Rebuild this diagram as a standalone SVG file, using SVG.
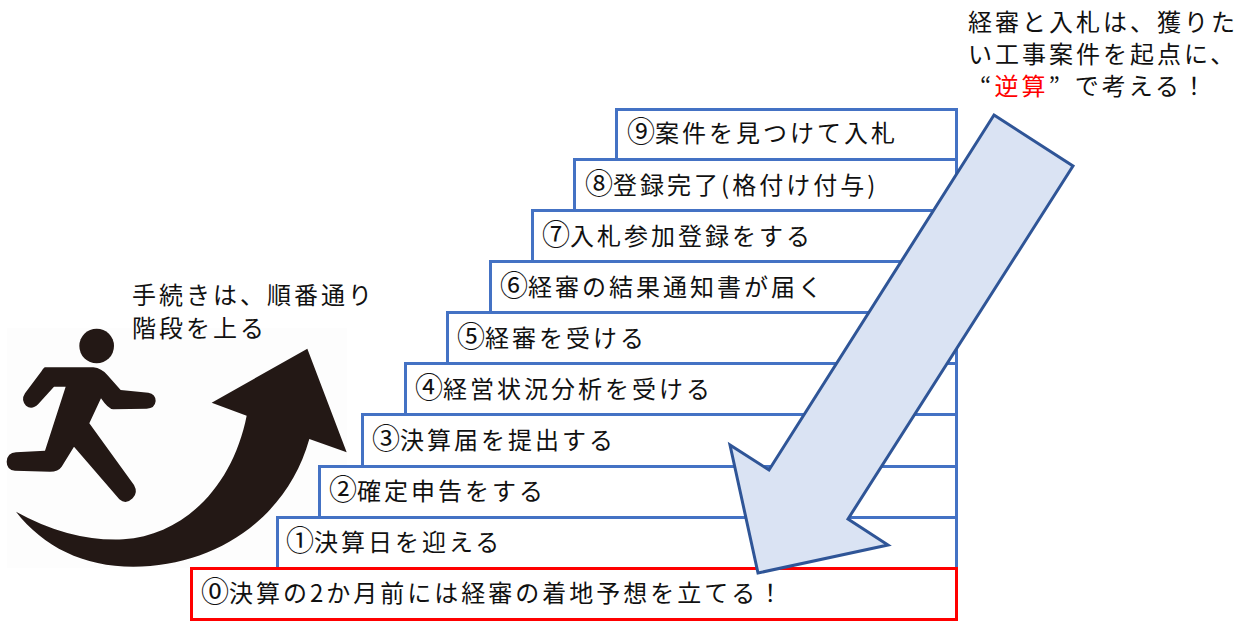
<svg xmlns="http://www.w3.org/2000/svg" width="1238" height="627" viewBox="0 0 1238 627">
<style>
text{font-family:"Noto Sans CJK JP","Noto Sans",sans-serif;font-size:24px;letter-spacing:3px;fill:#111}
.n{font-size:28px;letter-spacing:0}
.step rect{fill:#fff;stroke:#4472c4;stroke-width:3}
.zero rect{fill:#fff;stroke:#ff0000;stroke-width:3}
</style>
<rect width="1238" height="627" fill="#fff"/>
<g id="runner-figure">
<rect x="7" y="328" width="340" height="240" fill="#fdfdfd"/>
<g fill="#231815" transform="translate(0,270) scale(.33333)">
<circle cx="290" cy="228" r="52"/>
<path d="M135 292H280Q305 295 322 315L362 360L445 368Q467 372 467 393Q465 415 440 416L340 418Q325 418 303 385L268 460L402 645Q415 668 398 685Q378 705 358 688L222 530L185 590Q175 605 150 605L45 602Q20 600 20 575Q22 548 48 547L135 542L197 350H162L115 402Q95 422 78 407Q62 390 75 370L125 303Q132 292 135 292Z"/>
<path d="M48 725Q210 815 370 808C560 795 700 640 740 437L635 398L922 236L1040 547L928 507C860 750 640 890 400 890C250 890 130 830 48 725Z"/>
</g>
</g>
<text id="label-steps" x="132" y="304">手続きは、順番通り<tspan x="132" y="337">階段を上る</tspan></text>
<g id="step9" class="step"><rect x="616.5" y="109.5" width="340" height="50"/><text x="627" y="142"><tspan class="n">⑨</tspan>案件を見つけて入札</text></g>
<g id="step8" class="step"><rect x="574.5" y="159.5" width="382" height="51"/><text x="585" y="194"><tspan class="n">⑧</tspan>登録完了(格付け付与)</text></g>
<g id="step7" class="step"><rect x="532.5" y="210.5" width="424" height="51"/><text x="542" y="245"><tspan class="n">⑦</tspan>入札参加登録をする</text></g>
<g id="step6" class="step"><rect x="490.5" y="261.5" width="466" height="51"/><text x="500" y="296"><tspan class="n">⑥</tspan>経審の結果通知書が届く</text></g>
<g id="step5" class="step"><rect x="447.5" y="312.5" width="509" height="51"/><text x="457" y="347"><tspan class="n">⑤</tspan>経審を受ける</text></g>
<g id="step4" class="step"><rect x="405.5" y="363.5" width="551" height="51"/><text x="415" y="398"><tspan class="n">④</tspan>経営状況分析を受ける</text></g>
<g id="step3" class="step"><rect x="362.5" y="414.5" width="594" height="52"/><text x="372" y="449"><tspan class="n">③</tspan>決算届を提出する</text></g>
<g id="step2" class="step"><rect x="319.5" y="466.5" width="637" height="51"/><text x="329" y="500"><tspan class="n">②</tspan>確定申告をする</text></g>
<g id="step1" class="step"><rect x="277.5" y="517.5" width="679" height="51"/><text x="286" y="551"><tspan class="n">①</tspan>決算日を迎える</text></g>
<g id="step0" class="zero"><rect x="191.5" y="568.5" width="765" height="51"/><text x="201" y="602"><tspan class="n">⓪</tspan>決算の2か月前には経審の着地予想を立てる！</text></g>
<g id="connectors">
<path d="M994 115L1073 166L848 519L888 545L758 573L730 445L769 470Z" fill="#dae3f3" stroke="#2f5597" stroke-width="3"/>
</g>
<text id="label-reverse" x="968" y="31">経審と入札は、獲りた<tspan x="968" y="63">い工事案件を起点に、</tspan><tspan x="980" y="95">“</tspan><tspan fill="#ff0000">逆算</tspan><tspan>”</tspan><tspan dx="12">で考える！</tspan></text>
</svg>
